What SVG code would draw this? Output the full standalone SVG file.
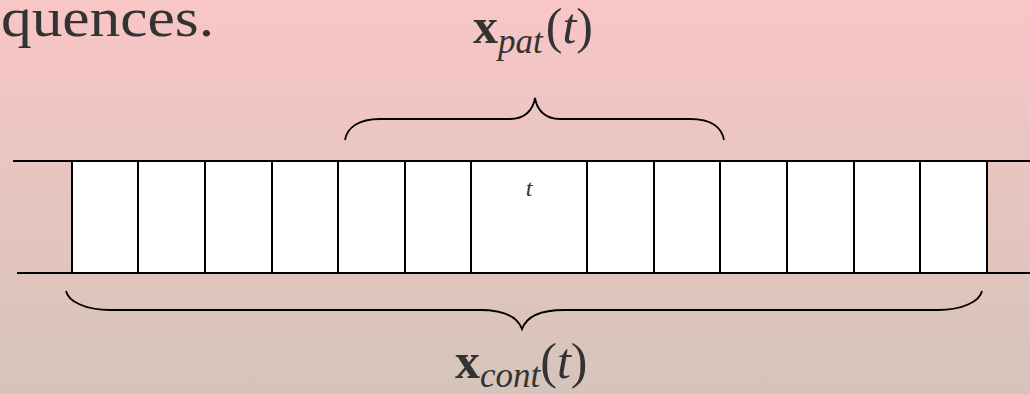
<svg xmlns="http://www.w3.org/2000/svg" width="1030" height="394" viewBox="0 0 1030 394">
<defs>
<linearGradient id="bg" x1="0" y1="0" x2="0" y2="1">
<stop offset="0" stop-color="#f8c6c6"/>
<stop offset="1" stop-color="#d5c4ba"/>
</linearGradient>
<style>
.ln{stroke:#000;stroke-width:2;fill:none}
.cell{fill:#fff;stroke:#000;stroke-width:2}
.br{stroke:#000;stroke-width:1.8;fill:none}
.tx{font-family:'Liberation Serif','Times New Roman',serif;fill:#333}
</style>
</defs>
<rect width="1030" height="394" fill="url(#bg)"/>
<text class="tx" x="1" y="36" font-size="54" textLength="213" lengthAdjust="spacingAndGlyphs">quences.</text>
<g id="cells">
<rect class="cell" x="72" y="161" width="915" height="112"/>
<path class="ln" d="M138 161V273M205 161V273M272 161V273M338 161V273M405 161V273M471 161V273M587 161V273M654 161V273M720 161V273M787 161V273M854 161V273M920 161V273"/>
<path class="ln" d="M13 161H1030M17 273H1030"/>
<text class="tx" x="529" y="196" font-style="italic" font-size="24" fill="#444" text-anchor="middle">t</text>
</g>
<g id="connectors">
<path class="br" d="M345 140C347 128 358 119 380 119H510C525 119 533 110 535 98C537 110 545 119 560 119H690C712 119 722 128 724 140"/>
<path class="br" d="M66 291C68 301 85 310 110 310H480C505 310 518 318 522 329C526 318 539 310 564 310H938C963 310 980 301 982 291"/>
</g>
<g id="label-pat">
<text class="tx" x="473" y="43" font-size="50"><tspan font-weight="bold">x</tspan><tspan font-style="italic" font-size="35" dy="10">pat</tspan><tspan dy="-10" dx="3">(</tspan><tspan font-style="italic">t</tspan><tspan>)</tspan></text>
</g>
<g id="label-cont">
<text class="tx" x="455" y="378" font-size="50"><tspan font-weight="bold">x</tspan><tspan font-style="italic" font-size="35" dy="9">cont</tspan><tspan dy="-9">(</tspan><tspan font-style="italic">t</tspan><tspan>)</tspan></text>
</g>
</svg>
